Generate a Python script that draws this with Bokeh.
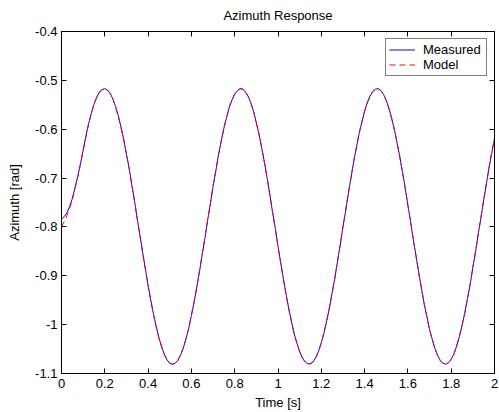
from bokeh.plotting import figure
from bokeh.models import (LinearAxis, FixedTicker, PrintfTickFormatter, Legend, LegendItem,
                          CustomLabelingPolicy)
from bokeh.embed import file_html
from bokeh.resources import INLINE

time_s = [0.0, 0.0125, 0.025, 0.0375, 0.05, 0.0625, 0.075, 0.0875, 0.1, 0.1125,
          0.125, 0.1375, 0.15, 0.1625, 0.175, 0.1875, 0.2, 0.2125, 0.225, 0.2375,
          0.25, 0.2625, 0.275, 0.2875, 0.3, 0.3125, 0.325, 0.3375, 0.35, 0.3625,
          0.375, 0.3875, 0.4, 0.4125, 0.425, 0.4375, 0.45, 0.4625, 0.475, 0.4875,
          0.5, 0.5125, 0.525, 0.5375, 0.55, 0.5625, 0.575, 0.5875, 0.6, 0.6125,
          0.625, 0.6375, 0.65, 0.6625, 0.675, 0.6875, 0.7, 0.7125, 0.725, 0.7375,
          0.75, 0.7625, 0.775, 0.7875, 0.8, 0.8125, 0.825, 0.8375, 0.85, 0.8625,
          0.875, 0.8875, 0.9, 0.9125, 0.925, 0.9375, 0.95, 0.9625, 0.975, 0.9875,
          1.0, 1.0125, 1.025, 1.0375, 1.05, 1.0625, 1.075, 1.0875, 1.1, 1.1125,
          1.125, 1.1375, 1.15, 1.1625, 1.175, 1.1875, 1.2, 1.2125, 1.225, 1.2375,
          1.25, 1.2625, 1.275, 1.2875, 1.3, 1.3125, 1.325, 1.3375, 1.35, 1.3625,
          1.375, 1.3875, 1.4, 1.4125, 1.425, 1.4375, 1.45, 1.4625, 1.475, 1.4875,
          1.5, 1.5125, 1.525, 1.5375, 1.55, 1.5625, 1.575, 1.5875, 1.6, 1.6125,
          1.625, 1.6375, 1.65, 1.6625, 1.675, 1.6875, 1.7, 1.7125, 1.725, 1.7375,
          1.75, 1.7625, 1.775, 1.7875, 1.8, 1.8125, 1.825, 1.8375, 1.85, 1.8625,
          1.875, 1.8875, 1.9, 1.9125, 1.925, 1.9375, 1.95, 1.9625, 1.975, 1.9875,
          2.0]

measured = [-0.784, -0.779, -0.771, -0.758, -0.742, -0.719, -0.697, -0.671, -0.643, -0.615,
            -0.589, -0.568, -0.549, -0.535, -0.524, -0.519, -0.517, -0.520, -0.527, -0.538,
            -0.554, -0.573, -0.596, -0.621, -0.651, -0.680, -0.715, -0.747, -0.784, -0.817,
            -0.853, -0.886, -0.920, -0.950, -0.979, -1.004, -1.027, -1.045, -1.061, -1.072,
            -1.079, -1.081, -1.079, -1.073, -1.062, -1.048, -1.029, -1.008, -0.981, -0.954,
            -0.923, -0.891, -0.856, -0.823, -0.786, -0.753, -0.717, -0.686, -0.653, -0.625,
            -0.598, -0.576, -0.555, -0.540, -0.528, -0.521, -0.517, -0.518, -0.524, -0.533,
            -0.547, -0.564, -0.587, -0.610, -0.639, -0.668, -0.701, -0.734, -0.770, -0.803,
            -0.840, -0.873, -0.907, -0.938, -0.968, -0.994, -1.019, -1.038, -1.055, -1.068,
            -1.076, -1.080, -1.080, -1.076, -1.067, -1.054, -1.037, -1.017, -0.992, -0.966,
            -0.935, -0.905, -0.870, -0.837, -0.800, -0.767, -0.731, -0.699, -0.665, -0.637,
            -0.608, -0.585, -0.563, -0.546, -0.532, -0.523, -0.518, -0.517, -0.521, -0.529,
            -0.541, -0.557, -0.578, -0.600, -0.628, -0.656, -0.688, -0.720, -0.756, -0.789,
            -0.826, -0.859, -0.894, -0.925, -0.957, -0.983, -1.010, -1.030, -1.049, -1.063,
            -1.074, -1.079, -1.081, -1.078, -1.071, -1.060, -1.044, -1.025, -1.002, -0.977,
            -0.947, -0.918, -0.883, -0.851, -0.814, -0.781, -0.745, -0.712, -0.678, -0.648,
            -0.619]

model = [-0.800, -0.789, -0.777, -0.762, -0.744, -0.721, -0.698, -0.672, -0.644, -0.616,
         -0.590, -0.568, -0.549, -0.535, -0.524, -0.519, -0.517, -0.520, -0.527, -0.538,
         -0.555, -0.574, -0.597, -0.622, -0.651, -0.681, -0.715, -0.748, -0.784, -0.818,
         -0.853, -0.887, -0.920, -0.951, -0.979, -1.005, -1.027, -1.046, -1.061, -1.072,
         -1.079, -1.081, -1.079, -1.073, -1.062, -1.048, -1.029, -1.007, -0.981, -0.953,
         -0.923, -0.890, -0.856, -0.822, -0.786, -0.752, -0.717, -0.685, -0.653, -0.624,
         -0.598, -0.576, -0.555, -0.540, -0.528, -0.521, -0.517, -0.518, -0.524, -0.533,
         -0.547, -0.565, -0.587, -0.611, -0.639, -0.669, -0.701, -0.735, -0.770, -0.804,
         -0.840, -0.874, -0.907, -0.939, -0.968, -0.995, -1.019, -1.039, -1.055, -1.068,
         -1.076, -1.080, -1.080, -1.076, -1.067, -1.054, -1.037, -1.016, -0.992, -0.965,
         -0.935, -0.904, -0.870, -0.836, -0.800, -0.766, -0.731, -0.698, -0.665, -0.636,
         -0.608, -0.585, -0.563, -0.546, -0.532, -0.523, -0.518, -0.517, -0.521, -0.529,
         -0.541, -0.558, -0.578, -0.601, -0.628, -0.657, -0.688, -0.721, -0.756, -0.790,
         -0.826, -0.860, -0.894, -0.926, -0.957, -0.984, -1.010, -1.031, -1.049, -1.063,
         -1.074, -1.079, -1.081, -1.078, -1.071, -1.060, -1.044, -1.024, -1.002, -0.976,
         -0.947, -0.917, -0.883, -0.850, -0.814, -0.780, -0.745, -0.711, -0.678, -0.647,
         -0.619]

x_ticks = [0, 0.2, 0.4, 0.6, 0.8, 1, 1.2, 1.4, 1.6, 1.8, 2]
y_ticks = [-1.1, -1, -0.9, -0.8, -0.7, -0.6, -0.5, -0.4]

FONT = "Liberation Sans"
FS = "13px"

p = figure(width=499, height=412, output_backend="svg", toolbar_location=None,
           x_range=(0, 2), y_range=(-1.1, -0.4),
           title="Azimuth Response",
           min_border_left=61, min_border_right=4, min_border_top=31, min_border_bottom=39)

p.title.align = "center"
p.title.text_font = FONT
p.title.text_font_size = FS
p.title.text_font_style = "normal"
p.title.text_color = "black"
p.title.standoff = 10

p.grid.visible = False
p.outline_line_color = "black"
p.outline_line_width = 1
p.background_fill_color = "white"
p.border_fill_color = "white"

r1 = p.line(time_s, measured, line_color="#0000ff", line_width=1)
r2 = p.line(time_s, model, line_color="#ff0000", line_width=1, line_dash="6 4")

def style_axis(ax, fs=FS):
    ax.axis_line_color = "black"
    ax.major_tick_line_color = "black"
    ax.major_tick_in = 5
    ax.major_tick_out = 0
    ax.minor_tick_line_color = None
    ax.major_label_text_font = FONT
    ax.major_label_text_font_size = fs
    ax.major_label_text_color = "black"
    ax.axis_label_text_font = FONT
    ax.axis_label_text_font_size = FS
    ax.axis_label_text_font_style = "normal"
    ax.axis_label_text_color = "black"

xa = p.xaxis[0]
xa.ticker = FixedTicker(ticks=x_ticks)
xa.formatter = PrintfTickFormatter(format="%g")
xa.axis_label = "Time [s]"
xa.axis_label_standoff = 4
style_axis(xa)

ya = p.yaxis[0]
ya.ticker = FixedTicker(ticks=y_ticks)
ya.formatter = PrintfTickFormatter(format="%g")
ya.axis_label = "Azimuth [rad]"
ya.axis_label_standoff = 10
ya.major_label_standoff = 4
style_axis(ya)

hide_labels = "for (const i of indices) indices.unset(i)"

# tick marks only (box with ticks on all four sides)
top_ax = LinearAxis(ticker=FixedTicker(ticks=x_ticks))
style_axis(top_ax, fs="1px")
top_ax.major_label_policy = CustomLabelingPolicy(code=hide_labels)
top_ax.major_label_standoff = 0
p.add_layout(top_ax, "above")

right_ax = LinearAxis(ticker=FixedTicker(ticks=y_ticks))
style_axis(right_ax, fs="1px")
right_ax.major_label_policy = CustomLabelingPolicy(code=hide_labels)
right_ax.major_label_standoff = 0
p.add_layout(right_ax, "right")

legend = Legend(items=[LegendItem(label="Measured", renderers=[r1]),
                       LegendItem(label="Model", renderers=[r2])],
                location="top_right")
legend.label_text_font = FONT
legend.label_text_font_size = FS
legend.label_text_color = "black"
legend.border_line_color = "black"
legend.border_line_width = 1
legend.background_fill_color = "white"
legend.background_fill_alpha = 1
legend.margin = 7
legend.padding = 3
legend.spacing = 0
legend.glyph_width = 26
legend.glyph_height = 13
legend.label_height = 13
legend.label_standoff = 8
legend.label_width = 60
p.add_layout(legend)

open("out.html", "w").write(file_html(p, INLINE))
